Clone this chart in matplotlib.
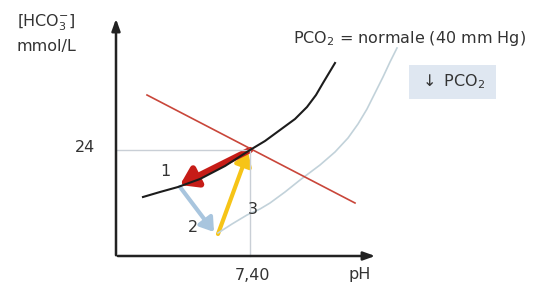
import matplotlib.pyplot as plt
from matplotlib.patches import FancyArrowPatch, Rectangle

plt.rcParams['font.family'] = ['DejaVu Sans']
plt.rcParams['mathtext.default'] = 'regular'

# schematic drawn in pixel-like units (x right, y down)
black_x = [143, 160, 178, 200, 225, 250, 265, 280, 295, 307, 316, 323, 329, 335]
black_y = [197, 192, 187, 179, 166, 150, 141, 130, 119, 107, 95, 83, 73, 63]
gray_x = [218, 232, 247, 260, 270, 285, 300, 320, 335, 348, 358, 367, 375, 383, 390, 397]
gray_y = [233, 224, 215, 209, 203, 192, 180, 165, 152, 138, 124, 109, 93, 77, 62, 48]
red_line_x = [147, 355]
red_line_y = [95, 203]

# arrows (start, end)
arrow_pts = {
    'red': ((250, 150), (180, 185)),
    'blue': ((180, 187), (214, 232)),
    'yellow': ((218, 234), (248, 152)),
}
arrow_cols = {'red': '#c61c17', 'blue': '#a8c5de', 'yellow': '#f6c417'}
arrow_lw = {'red': 4.5, 'blue': 3.0, 'yellow': 3.0}

step_labels = ['1', '2', '3']
step_pos = [(165, 171), (193, 227), (253, 210)]

TXT = '#333333'

fig = plt.figure(figsize=(5.39, 2.86), dpi=100)
ax = fig.add_axes([0, 0, 1, 1])
ax.set_xlim(0, 539)
ax.set_ylim(286, 0)
ax.axis('off')

# guide lines
ax.plot([116, 250], [150, 150], color='#c9cfd6', lw=1)
ax.plot([250, 250], [150, 256], color='#c9cfd6', lw=1)

# axes with arrows
ax.annotate('', xy=(116, 16), xytext=(116, 258),
            arrowprops=dict(arrowstyle='-|>,head_length=0.7,head_width=0.25', color='#222222', lw=1.8))
ax.annotate('', xy=(378, 256), xytext=(115, 256),
            arrowprops=dict(arrowstyle='-|>,head_length=0.7,head_width=0.25', color='#222222', lw=1.8))

# curves
ax.plot(gray_x, gray_y, color='#c2d2da', lw=1.2)
ax.plot(red_line_x, red_line_y, color='#c9463a', lw=1.2)
ax.plot(black_x, black_y, color='#1c1c1c', lw=1.5)

for k in ['blue', 'yellow', 'red']:
    (x0, y0), (x1, y1) = arrow_pts[k]
    hw = 0.5 if k == 'red' else 0.4
    ax.add_patch(FancyArrowPatch((x0, y0), (x1, y1),
                                 arrowstyle=f'-|>,head_length={hw*1.5},head_width={hw}',
                                 color=arrow_cols[k], lw=arrow_lw[k],
                                 mutation_scale=13, shrinkA=0, shrinkB=0))

for lab, (x, y) in zip(step_labels, step_pos):
    ax.text(x, y, lab, fontsize=11.5, color=TXT, ha='center', va='center')

# text
ax.text(17, 23, r'[HCO$_3^{-}$]', fontsize=11.5, color=TXT, ha='left', va='center')
ax.text(17, 47, 'mmol/L', fontsize=11.5, color=TXT, ha='left', va='center')
ax.text(85, 148, '24', fontsize=11.5, color=TXT, ha='center', va='center')
ax.text(253, 275, '7,40', fontsize=11.5, color=TXT, ha='center', va='center')
ax.text(360, 275, 'pH', fontsize=11.5, color=TXT, ha='center', va='center')
ax.text(293, 38, r'PCO$_2$ = normale (40 mm Hg)', fontsize=11.5, color=TXT,
        ha='left', va='center')

ax.add_patch(Rectangle((409, 65), 87, 34, facecolor='#dfe7f1', edgecolor='none'))
ax.text(452, 82, r'$\downarrow$ PCO$_2$', fontsize=11.5, color=TXT, ha='center', va='center')

fig.savefig('out.png', dpi=100)
